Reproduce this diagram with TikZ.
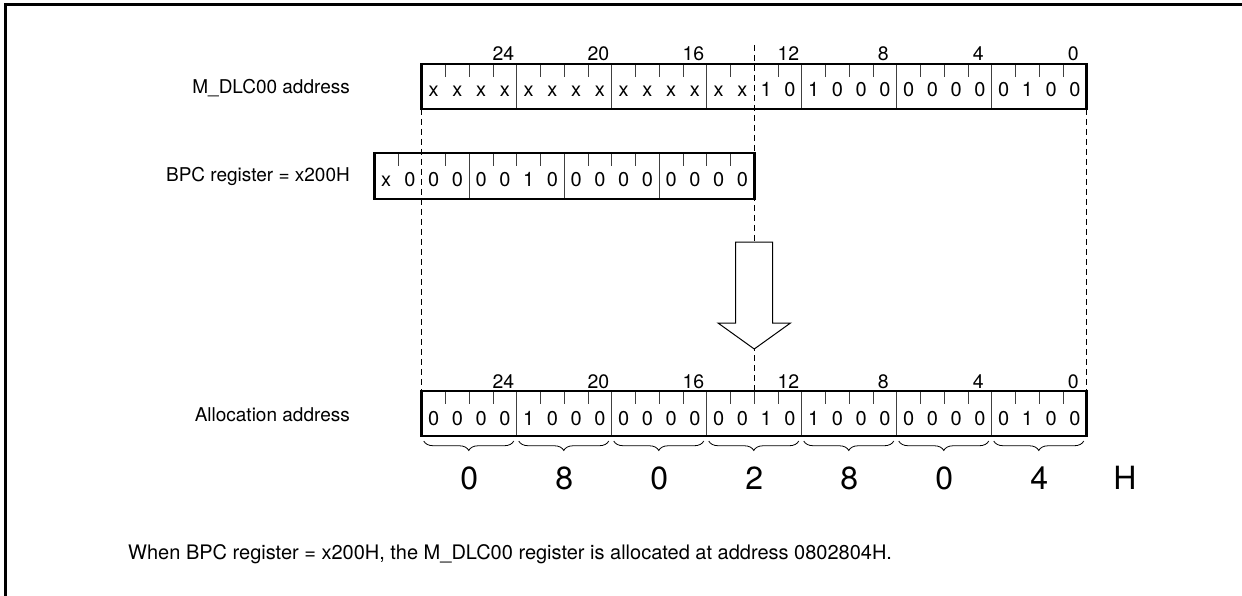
\documentclass[tikz,border=0pt]{standalone}
\usepackage{fontspec}
\setmainfont{TeX Gyre Heros}
\usetikzlibrary{decorations.pathreplacing}
\begin{document}
\begin{tikzpicture}[x=1pt,y=-1pt,
  regbox/.style={line width=2.6pt},
  nibline/.style={line width=1pt, black!75},
  tickline/.style={line width=0.9pt, black!75},
  guide/.style={line width=0.9pt, dash pattern=on 6pt off 4pt},
  bitlbl/.style={anchor=base, inner sep=0pt, font=\fontsize{20}{22}\selectfont},
  poslbl/.style={anchor=base, inner sep=0pt, font=\fontsize{19.5}{22}\selectfont},
  sidelbl/.style={anchor=base east, inner sep=0pt, font=\fontsize{19}{22}\selectfont},
  hexlbl/.style={anchor=base, inner sep=0pt, font=\fontsize{32}{35}\selectfont},
  bracestyle/.style={decorate, decoration={brace, mirror, amplitude=9.5pt}, line width=0.8pt},
  arrowbox/.style={fill=white, line width=1pt}
]
\useasboundingbox (0,0) rectangle (1242,596);
% frame
\draw[line width=3pt] (5.5,596) -- (5.5,5) -- (1242,5);

\def\bw{23.75}
% coordinates for guides
\coordinate (gLt) at (421.75,109);
\coordinate (gLb) at (421.75,391);
\coordinate (gMt) at (754.25,45);
\coordinate (gMb) at (754.25,391);
\coordinate (gRt) at (1086.75,109);
\coordinate (gRb) at (1086.75,391);
\draw[guide] (gLt) -- (gLb);
\draw[guide] (gMt) -- (gMb);
\draw[guide] (gRt) -- (gRb);

% ---------- top register ----------
\node[sidelbl] (lblTop) at (350,94) {M\_DLC00 address};
\foreach \b [count=\i from 0] in {x,x,x,x,x,x,x,x,x,x,x,x,x,x,1,0,1,0,0,0,0,0,0,0,0,1,0,0}
  \node[bitlbl] (t\i) at ({421.75+(\i+0.5)*\bw},97) {\b};
\foreach \i in {1,...,27}{
  \pgfmathtruncatemacro\m{mod(\i,4)}
  \ifnum\m=0
    \draw[nibline] ({421.75+\i*\bw},64) -- ({421.75+\i*\bw},109);
  \else\ifnum\i=14\else
    \draw[tickline] ({421.75+\i*\bw},64) -- ({421.75+\i*\bw},77);
  \fi\fi
}
\draw[regbox] (421.75,64) rectangle (1086.75,109);
\foreach \p in {24,20,16,12,8,4,0}
  \node[poslbl] (tp\p) at ({421.75+(27-\p+0.5)*\bw-1.5},61) {\p};

% ---------- BPC register ----------
\node[sidelbl] (lblBpc) at (350,182) {BPC register = x200H};
\foreach \b [count=\i from 0] in {x,0,0,0,0,0,1,0,0,0,0,0,0,0,0,0}
  \node[bitlbl] (b\i) at ({374.25+(\i+0.5)*\bw},187) {\b};
\foreach \i in {1,...,15}{
  \pgfmathtruncatemacro\m{mod(\i,4)}
  \ifnum\m=0
    \draw[nibline] ({374.25+\i*\bw},153) -- ({374.25+\i*\bw},199);
  \else\ifnum\i=2\else
    \draw[tickline] ({374.25+\i*\bw},153) -- ({374.25+\i*\bw},166);
  \fi\fi
}
\draw[regbox] (374.25,153) rectangle (754.25,199);

% ---------- arrow ----------
\draw[arrowbox] (735.5,242) -- (772.5,242) -- (772.5,323) -- (790.5,323)
  -- (754.25,349) -- (718,323) -- (735.5,323) -- cycle;

% ---------- allocation register ----------
\node[sidelbl] (lblAll) at (350,421) {Allocation address};
\foreach \b [count=\i from 0] in {0,0,0,0,1,0,0,0,0,0,0,0,0,0,1,0,1,0,0,0,0,0,0,0,0,1,0,0}
  \node[bitlbl] (a\i) at ({421.75+(\i+0.5)*\bw},425) {\b};
\foreach \i in {1,...,27}{
  \pgfmathtruncatemacro\m{mod(\i,4)}
  \ifnum\m=0
    \draw[nibline] ({421.75+\i*\bw},391) -- ({421.75+\i*\bw},436);
  \else
    \draw[tickline] ({421.75+\i*\bw},391) -- ({421.75+\i*\bw},404);
  \fi
}
\draw[regbox] (421.75,391) rectangle (1086.75,436);
\foreach \p in {24,20,16,12,8,4,0}
  \node[poslbl] (ap\p) at ({421.75+(27-\p+0.5)*\bw-1.5},388) {\p};

% ---------- braces and hex digits ----------
\foreach \h [count=\n from 0] in {0,8,0,2,8,0,4}{
  \coordinate (bs\n) at ({421.75+95*\n+2},441);
  \coordinate (be\n) at ({421.75+95*(\n+1)-3},441);
  \draw[bracestyle] (bs\n) -- (be\n);
  \node[hexlbl] (h\n) at ({421.75+95*\n+47.5},489) {\h};
}
\node[hexlbl] (hH) at (1125,489) {H};

% ---------- note ----------
\node[anchor=base west, inner sep=0pt, font=\fontsize{20}{23}\selectfont] (note) at (128,559)
  {When BPC register = x200H, the M\_DLC00 register is allocated at address 0802804H.};
\end{tikzpicture}
\end{document}
